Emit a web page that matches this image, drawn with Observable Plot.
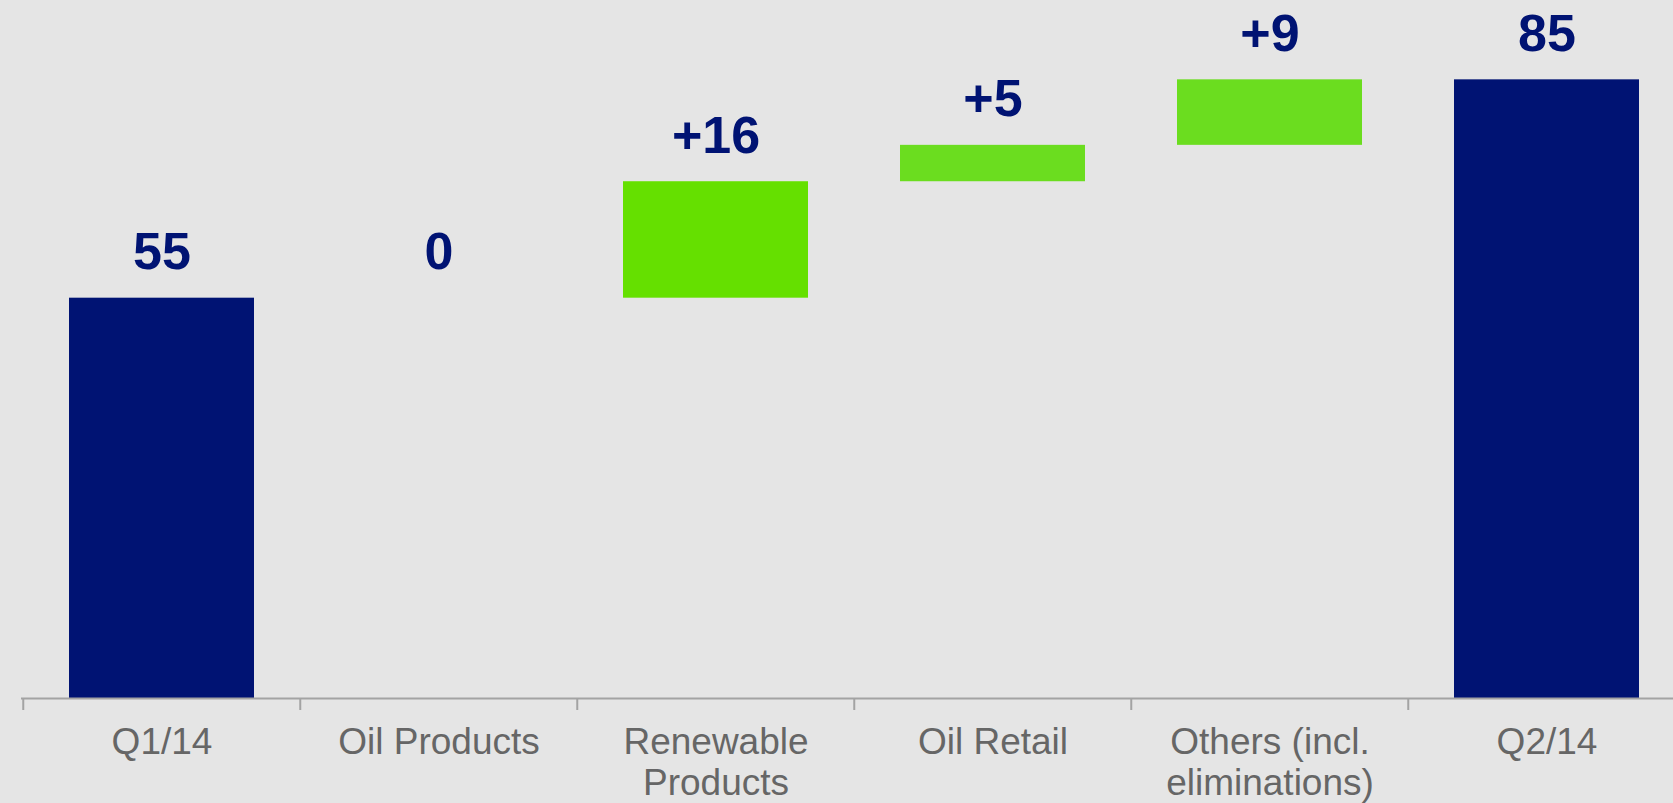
<!DOCTYPE html>
<html>
<head>
<meta charset="utf-8">
<script src="https://cdn.jsdelivr.net/npm/d3@7"></script>
<script src="https://cdn.jsdelivr.net/npm/@observablehq/plot@0.6"></script>
<style>
  html, body { margin: 0; padding: 0; background: #e5e5e5; overflow: hidden; }
</style>
</head>
<body>
<div id="chart"></div>
<script>
// ---- data ----
const categories = ["Q1/14", "Oil Products", "Renewable\nProducts", "Oil Retail", "Others (incl.\neliminations)", "Q2/14"];
const values = [55, 0, 16, 5, 9, 85];
const kinds = ["total", "delta", "delta", "delta", "delta", "total"];
const valueLabels = ["55", "0", "+16", "+5", "+9", "85"];

// ---- build waterfall rows ----
let running = 0;
const rows = categories.map((c, i) => {
  let y1, y2;
  if (kinds[i] === "total") { y1 = 0; y2 = values[i]; running = values[i]; }
  else { y1 = running; y2 = running + values[i]; running = y2; }
  return { cat: c, y1, y2, top: Math.max(y1, y2), kind: kinds[i], label: valueLabels[i], idx: i };
});

const W = 1673, H = 803;
const xRange = [21, 1686];
const step = (xRange[1] - xRange[0]) / categories.length;
const navy = "#001373";
const barFill = d => d.kind === "total" ? navy : (d.idx === 2 ? "#65e000" : "#6bdd1f");

const chart = Plot.plot({
  width: W,
  height: H,
  marginTop: 0,
  marginBottom: 105,
  marginLeft: 21,
  marginRight: 0,
  style: { background: "#e5e5e5", fontFamily: "'Liberation Sans', Arial, sans-serif" },
  x: { domain: categories, range: xRange, padding: 0, axis: null },
  y: { domain: [0, 95.9], axis: null },
  marks: [
    Plot.barY(rows, { x: "cat", y1: "y1", y2: "y2", fill: barFill, insetLeft: 46, insetRight: 46 }),
    Plot.ruleY([0], { stroke: "#a3a3a3", strokeWidth: 2 }),
    Plot.axisX({ tickSize: 12, tickFormat: () => "", label: null, dx: -step / 2, stroke: "#a3a3a3", strokeWidth: 2 }),
    Plot.axisX({ tickSize: 0, tickPadding: 27, label: null, fontSize: 37, lineHeight: 1.1, fill: "#666666", textStroke: "none" }),
    Plot.text(rows, { x: "cat", y: "top", text: "label", dy: -29, lineAnchor: "bottom", fontSize: 52, fontWeight: "bold", fill: navy })
  ]
});
document.getElementById("chart").appendChild(chart);
</script>
</body>
</html>
